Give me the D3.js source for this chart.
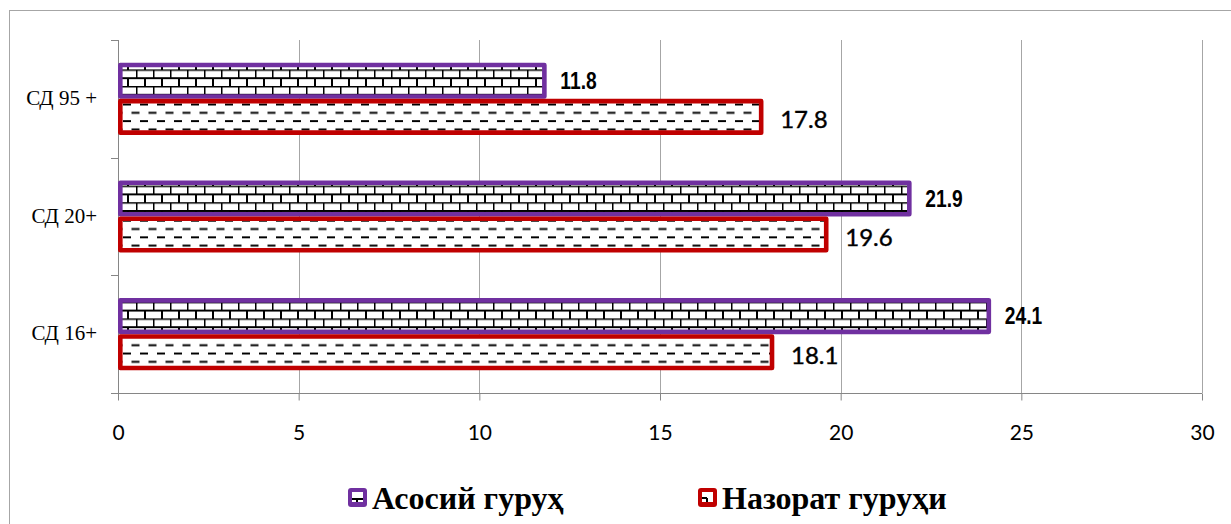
<!DOCTYPE html>
<html>
<head>
<meta charset="utf-8">
<script src="https://cdn.jsdelivr.net/npm/d3@7"></script>
<style>
  body { margin: 0; background: #fff; }
  svg { display: block; }
</style>
</head>
<body>
<div id="chart"></div>
<script>
// categories from top to bottom
const categories = ["СД 95 +", "СД 20+", "СД 16+"];
const seriesNames = ["Асосий гуруҳ", "Назорат гуруҳи"];
const asosiy = [11.8, 21.9, 24.1];
const nazorat = [17.8, 19.6, 18.1];
const xTicks = [0, 5, 10, 15, 20, 25, 30];

const width = 1231, height = 524;
const colors = ["#7030a0", "#c00000"];

const svg = d3.select("#chart").append("svg")
  .attr("width", width)
  .attr("height", height);

const defs = svg.append("defs");

// brick pattern for the main group
const brick = defs.append("pattern")
  .attr("id", "brick")
  .attr("patternUnits", "userSpaceOnUse")
  .attr("width", 17).attr("height", 16.6)
  .attr("x", 0).attr("y", 3);
brick.append("rect").attr("width", 17).attr("height", 16.6).attr("fill", "#fff");
brick.append("path")
  .attr("d", "M0,0.5H17 M0,8.8H17 M0.5,0V8.3 M9,8.3V16.6")
  .attr("stroke", "#000").attr("stroke-width", 2).attr("fill", "none");

// dashed pattern for the control group
const dash = defs.append("pattern")
  .attr("id", "dash")
  .attr("patternUnits", "userSpaceOnUse")
  .attr("width", 17).attr("height", 16.6)
  .attr("x", 4).attr("y", 2);
dash.append("rect").attr("width", 17).attr("height", 16.6).attr("fill", "#fff");
dash.append("path")
  .attr("d", "M0,3H8 M8.5,11.3H16.5")
  .attr("stroke", "#000").attr("stroke-width", 2).attr("fill", "none");

// outer frame
svg.append("rect")
  .attr("x", 9.5).attr("y", 10.5)
  .attr("width", 1240).attr("height", 540)
  .attr("fill", "none").attr("stroke", "#a6a6a6");

const x = d3.scaleLinear().domain([0, 30]).range([118, 1202]);
const y = d3.scaleBand().domain(categories).range([40, 393]);
const ySub = d3.scaleBand().domain(seriesNames).range([0, y.bandwidth()])
  .paddingInner(0).paddingOuter(0.63);

// gridlines
svg.append("g").selectAll("line")
  .data(xTicks.filter(d => d > 0))
  .join("line")
  .attr("x1", d => Math.round(x(d)) + 0.5).attr("x2", d => Math.round(x(d)) + 0.5)
  .attr("y1", 40).attr("y2", 393)
  .attr("stroke", "#a6a6a6");

// x axis
const xAxis = svg.append("g")
  .attr("transform", "translate(0,393.5)")
  .call(d3.axisBottom(x).tickValues(xTicks).tickSize(7).tickPadding(25));
xAxis.select(".domain").attr("stroke", "#868686").attr("d", `M${x(0)},0H${x(30)}`);
xAxis.selectAll(".tick line").attr("stroke", "#868686");
xAxis.selectAll("text")
  .attr("font-family", "Lato, 'Open Sans', sans-serif")
  .attr("font-size", 21).attr("fill", "#000");

// y axis line and ticks at category boundaries
const yBounds = [40, 40 + y.step(), 40 + 2 * y.step(), 393];
svg.append("line")
  .attr("x1", 118.5).attr("x2", 118.5).attr("y1", 40).attr("y2", 393)
  .attr("stroke", "#868686");
svg.append("g").selectAll("line")
  .data(yBounds)
  .join("line")
  .attr("x1", 111).attr("x2", 118)
  .attr("y1", d => Math.round(d) + 0.5).attr("y2", d => Math.round(d) + 0.5)
  .attr("stroke", "#868686");

svg.append("g").selectAll("text")
  .data(categories)
  .join("text")
  .attr("x", 97)
  .attr("y", d => y(d) + y.bandwidth() / 2 - 1)
  .attr("text-anchor", "end")
  .attr("dominant-baseline", "central")
  .attr("font-family", "'Liberation Serif', 'Times New Roman', serif")
  .attr("font-size", 21)
  .text(d => d);

// bars
const rows = [];
categories.forEach((c, i) => {
  rows.push({ cat: c, s: seriesNames[0], v: asosiy[i], k: 0 });
  rows.push({ cat: c, s: seriesNames[1], v: nazorat[i], k: 1 });
});
const sw = 4.6;
svg.append("g").selectAll("rect")
  .data(rows)
  .join("rect")
  .attr("x", x(0) + sw / 2)
  .attr("y", d => y(d.cat) + ySub(d.s) + sw / 2)
  .attr("width", d => x(d.v) - x(0) - sw / 2)
  .attr("height", ySub.bandwidth() - sw)
  .attr("fill", d => d.k === 0 ? "url(#brick)" : "url(#dash)")
  .attr("stroke", d => colors[d.k])
  .attr("stroke-width", sw)
  .attr("stroke-linejoin", "round");

// value labels: main group in a narrow bold face, control group plain
svg.append("g").selectAll("text")
  .data(rows)
  .join("text")
  .attr("transform", d => {
    const tx = x(d.v) + (d.k === 0 ? 16 : 19);
    const ty = y(d.cat) + ySub(d.s) + ySub.bandwidth() / 2 + (d.k === 0 ? 0 : 2);
    return `translate(${tx},${ty}) scale(${d.k === 0 ? 0.8 : 1},1)`;
  })
  .attr("dominant-baseline", "central")
  .attr("font-family", d => d.k === 0 ? "'Liberation Sans', Arial, sans-serif" : "Lato, 'Open Sans', sans-serif")
  .attr("font-size", d => d.k === 0 ? 24 : 24)
  .attr("font-weight", d => d.k === 0 ? "bold" : "normal")
  .attr("stroke", d => d.k === 0 ? "none" : "#000")
  .attr("stroke-width", 0.4)
  .text(d => d.v.toFixed(1));

// legend
const legendX = [348, 698];
const legend = svg.append("g").selectAll("g")
  .data(seriesNames)
  .join("g")
  .attr("transform", (d, i) => `translate(${legendX[i]},497)`);
legend.append("rect")
  .attr("x", 0).attr("y", -9).attr("width", 19).attr("height", 19)
  .attr("rx", 3)
  .attr("fill", (d, i) => colors[i]);
legend.append("rect")
  .attr("x", 4).attr("y", -5).attr("width", 11).attr("height", 10)
  .attr("fill", "#fff");
legend.append("path")
  .attr("d", (d, i) => i === 0 ? "M4,2H15 M9,2V5" : "M4,1H9 M9,1V5")
  .attr("stroke", "#000").attr("stroke-width", 2);
legend.append("text")
  .attr("x", 24).attr("y", 1)
  .attr("dominant-baseline", "central")
  .attr("font-family", "'Liberation Serif', 'Times New Roman', serif")
  .attr("font-weight", "bold")
  .attr("font-size", 32)
  .text(d => d);
</script>
</body>
</html>
